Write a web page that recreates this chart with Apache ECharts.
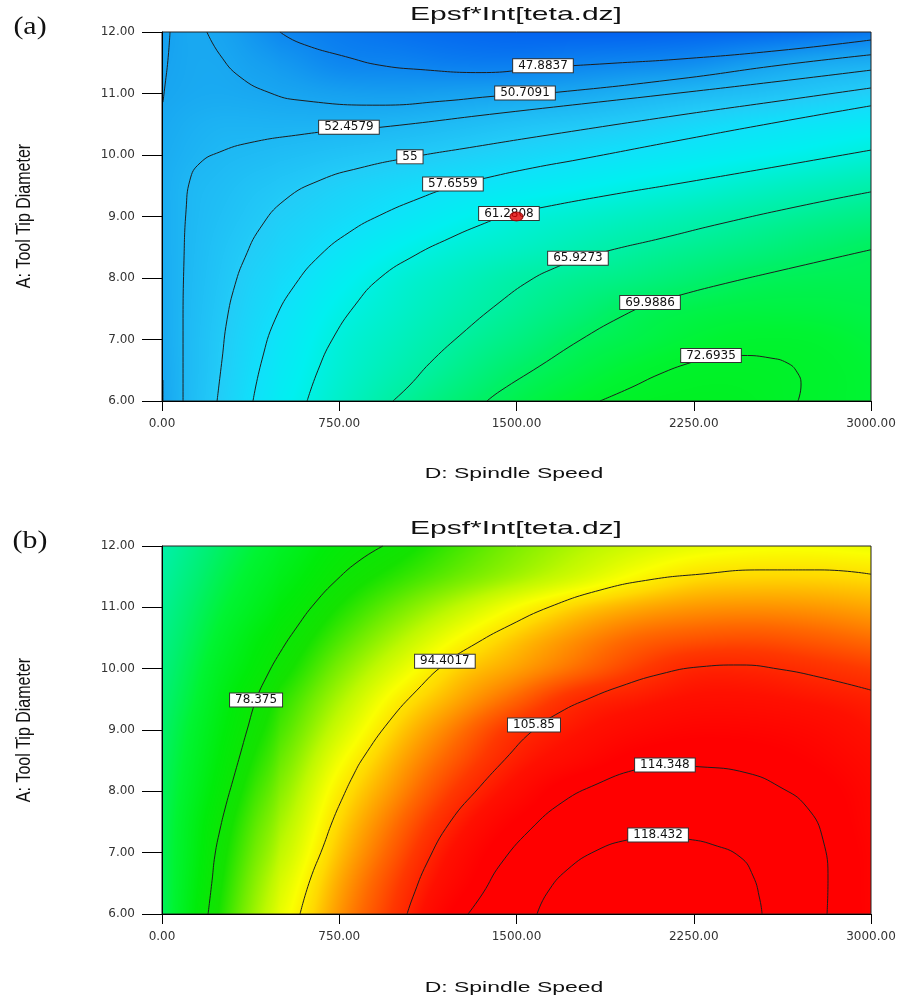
<!DOCTYPE html>
<html>
<head>
<meta charset="utf-8">
<script src="https://cdn.jsdelivr.net/npm/echarts@6/dist/echarts.min.js"></script>
<style>
  html, body { margin: 0; padding: 0; background: #ffffff; }
  #chart { width: 900px; height: 997px; }
</style>
</head>
<body>
<div id="chart"></div>
<script>
// ---- axes ----
const speedTicks = [0, 750, 1500, 2250, 3000];          // D: Spindle Speed
const diameterTicks = [6, 7, 8, 9, 10, 11, 12];         // A: Tool Tip Diameter

// ---- response surface grid (read at these speeds / diameters) ----
const speedCols = [0, 125, 250, 375, 500, 750, 1000, 1250, 1500, 1750, 2000, 2250, 2500, 2750, 3000];
const diameterRows = [6, 6.5, 7, 7.5, 8, 8.5, 9, 9.5, 10, 10.5, 11, 11.5, 12];

// panel (a): one row per diameter, one value per speed column
const surfaceA = [
  [50.6, 53.1, 55.3, 57.5, 59.5, 63.0, 66.2, 68.7, 70.7, 72.1, 73.2, 73.5, 73.3, 72.6, 72.0],
  [50.8, 53.0, 55.0, 57.0, 58.9, 62.2, 64.8, 67.2, 69.4, 70.9, 72.1, 72.9, 73.0, 72.6, 71.9],
  [51.0, 53.0, 54.8, 56.6, 58.3, 61.6, 63.8, 66.0, 67.9, 69.8, 70.9, 71.8, 72.3, 72.2, 71.5],
  [51.1, 52.9, 54.5, 56.1, 57.6, 60.6, 62.8, 64.8, 66.6, 68.3, 70.0, 70.8, 71.2, 71.2, 70.9],
  [51.2, 52.8, 54.2, 55.6, 56.8, 59.4, 61.9, 63.7, 65.5, 66.8, 67.8, 68.9, 69.9, 70.3, 70.4],
  [51.3, 52.7, 53.9, 55.0, 56.0, 58.0, 60.1, 61.9, 63.2, 64.6, 65.9, 66.9, 67.9, 68.9, 69.8],
  [51.35, 52.6, 53.5, 54.4, 55.3, 56.7, 58.2, 59.9, 61.5, 62.6, 63.7, 64.8, 65.9, 66.9, 67.8],
  [51.4, 52.5, 53.1, 53.8, 54.4, 55.6, 56.7, 57.8, 58.8, 59.8, 60.8, 61.8, 63.0, 64.1, 65.2],
  [51.25, 52.0, 52.55, 52.85, 53.2, 53.9, 54.6, 55.4, 56.3, 57.2, 58.1, 59.0, 59.9, 60.8, 61.9],
  [50.95, 51.6, 51.95, 51.95, 51.9, 52.0, 52.35, 53.0, 53.8, 54.5, 55.3, 56.4, 57.4, 58.2, 59.0],
  [50.6, 51.0, 51.1, 50.9, 50.6, 50.1, 49.9, 50.2, 50.5, 51.0, 51.9, 52.8, 53.6, 54.6, 55.6],
  [50.3, 50.85, 50.8, 50.1, 49.4, 47.9, 47.6, 47.1, 47.0, 47.6, 48.0, 48.5, 49.8, 51.0, 51.6],
  [50.0, 50.85, 50.4, 49.2, 47.9, 46.8, 46.0, 45.4, 45.0, 44.8, 44.8, 45.0, 45.3, 45.8, 46.6]
];

// panel (b)
const surfaceB = [
  [70.0, 75.5, 80.6, 85.8, 90.9, 98.6, 104.9, 112.9, 117.2, 119.5, 120.2, 120.0, 118.7, 115.3, 111.2],
  [70.1, 75.0, 79.9, 84.8, 89.7, 97.6, 103.8, 110.6, 116.1, 119.0, 119.7, 119.6, 118.5, 115.3, 111.1],
  [70.2, 74.6, 79.2, 83.7, 88.2, 96.3, 102.4, 108.9, 114.9, 117.7, 118.8, 118.8, 118.2, 115.2, 111.0],
  [70.1, 74.3, 78.4, 82.6, 86.8, 95.0, 100.9, 106.7, 112.3, 115.6, 117.4, 117.5, 116.5, 114.4, 110.5],
  [69.9, 73.6, 77.3, 81.3, 85.3, 93.5, 99.1, 104.4, 109.3, 114.2, 115.6, 115.7, 115.0, 113.4, 110.2],
  [69.6, 73.0, 76.4, 80.0, 83.8, 91.6, 97.5, 102.3, 106.8, 110.0, 113.0, 114.0, 113.3, 111.7, 109.3],
  [69.2, 72.4, 75.6, 78.8, 82.3, 89.3, 95.6, 100.3, 104.9, 107.6, 109.9, 111.2, 111.0, 110.0, 107.9],
  [68.7, 71.6, 74.8, 77.8, 80.9, 87.1, 93.3, 97.6, 101.4, 105.3, 107.0, 108.4, 108.4, 107.6, 106.5],
  [68.1, 70.9, 73.8, 76.3, 79.1, 84.8, 90.4, 95.3, 98.1, 100.9, 103.7, 106.0, 106.0, 105.0, 103.9],
  [67.5, 70.1, 72.7, 75.2, 77.6, 82.4, 87.3, 92.1, 95.9, 98.8, 101.1, 102.2, 102.5, 101.8, 100.7],
  [66.8, 69.3, 71.6, 73.7, 76.0, 80.2, 84.2, 88.2, 92.2, 95.4, 97.4, 98.5, 98.8, 98.5, 97.7],
  [66.1, 68.4, 70.6, 72.6, 74.6, 78.3, 81.2, 84.0, 86.8, 89.6, 92.5, 94.6, 95.1, 95.1, 94.7],
  [65.4, 67.5, 69.6, 71.5, 73.4, 76.8, 79.0, 82.0, 84.8, 87.2, 89.2, 90.7, 91.5, 91.6, 91.1]
];

// ---- contour lines, [speed, diameter] ----
const a4788 = [[499,12],[584,11.82],[795,11.58],[922,11.46],[1092,11.39],[1350,11.34],[1612,11.42],[1900,11.49],[2192,11.56],[2615,11.70],[3000,11.87]];
const a5071 = [[190,12],[245,11.63],[330,11.27],[457,11.01],[584,10.89],[922,10.81],[1200,10.88],[1388,10.95],[1536,10.99],[1671,11.02],[2192,11.24],[2615,11.46],[3000,11.63]];
const a5071EdgeTop = [[34,12],[25,11.54],[13,11.14],[4,10.86]];
const a5071EdgeLow = [[4,6],[4,6.34]];
const a5246 = [[89,6],[89,7.15],[93,8.29],[102,9.11],[118,9.59],[161,9.87],[245,10.05],[372,10.20],[584,10.33],[791,10.42],[922,10.45],[1430,10.68],[2192,11.01],[2615,11.20],[3000,11.38]];
const a5500 = [[233,6],[254,6.67],[275,7.32],[309,7.89],[351,8.33],[415,8.81],[520,9.27],[669,9.59],[838,9.79],[1049,9.96],[1300,10.12],[1642,10.33],[2192,10.65],[2615,10.88],[3000,11.09]];
const a5766 = [[385,6],[423,6.67],[478,7.32],[563,7.89],[669,8.37],[795,8.75],[922,9.02],[1092,9.30],[1231,9.49],[1375,9.63],[1569,9.79],[1769,9.93],[2192,10.24],[2615,10.54],[3000,10.80]];
const a6128 = [[614,6],[660,6.5],[719,6.99],[817,7.56],[922,8.00],[1071,8.37],[1219,8.65],[1346,8.86],[1468,9.03],[1599,9.14],[1896,9.35],[2192,9.54],[2615,9.82],[3000,10.08]];
const a6593 = [[977,6],[1049,6.26],[1134,6.62],[1261,7.07],[1430,7.61],[1557,7.96],[1660,8.16],[1760,8.30],[1896,8.45],[2107,8.64],[2361,8.88],[2700,9.17],[3000,9.40]];
const a6999 = [[1375,6],[1430,6.16],[1599,6.57],[1769,6.99],[1938,7.36],[2065,7.58],[2200,7.73],[2361,7.89],[2615,8.12],[3000,8.46]];
const a7269 = [[1853,6],[1980,6.21],[2107,6.44],[2234,6.62],[2331,6.71],[2458,6.74],[2573,6.70],[2645,6.62],[2687,6.47],[2704,6.26],[2691,6]];

const b7838 = [[195,6],[212,6.55],[224,6.96],[245,7.37],[271,7.78],[300,8.18],[330,8.59],[360,9.00],[398,9.49],[444,9.88],[499,10.26],[571,10.68],[647,11.07],[740,11.45],[838,11.77],[935,12]];
const b9440 = [[584,6],[626,6.55],[681,7.09],[722,7.52],[766,7.91],[808,8.25],[850,8.54],[965,9.16],[1079,9.65],[1197,10.08],[1333,10.42],[1473,10.71],[1642,11.01],[1853,11.28],[2065,11.45],[2276,11.54],[2530,11.61],[2784,11.61],[3000,11.54]];
const b10585 = [[1037,6],[1062,6.28],[1121,6.83],[1219,7.50],[1346,8.08],[1451,8.52],[1566,8.98],[1684,9.29],[1811,9.52],[1938,9.71],[2107,9.91],[2276,10.03],[2446,10.06],[2615,9.99],[2784,9.86],[3000,9.65]];
const b11435 = [[1295,6],[1358,6.34],[1430,6.80],[1557,7.37],[1697,7.83],[1841,8.12],[2001,8.35],[2128,8.42],[2276,8.40],[2475,8.30],[2615,8.07],[2729,7.74],[2797,7.21],[2818,6.55],[2814,6]];
const b11843 = [[1587,6],[1629,6.34],[1714,6.72],[1841,7.04],[1972,7.21],[2099,7.27],[2226,7.22],[2331,7.13],[2446,6.93],[2501,6.62],[2530,6.23],[2539,6]];

// contour levels and where each level's tag sits on its line
const levelsA = [47.8837, 50.7091, 52.4579, 55, 57.6559, 61.2808, 65.9273, 69.9886, 72.6935];
const linesA = [a4788, a5071, a5246, a5500, a5766, a6128, a6593, a6999, a7269];
const tagAtA = [[1612,11.45],[1536,11.01],[791,10.45],[1049,9.97],[1231,9.53],[1468,9.05],[1760,8.32],[2065,7.60],[2323,6.74]];
const extraLinesA = [a5071EdgeTop, a5071EdgeLow];

const levelsB = [78.375, 94.4017, 105.85, 114.348, 118.432];
const linesB = [b7838, b9440, b10585, b11435, b11843];
const tagAtB = [[398,9.49],[1197,10.12],[1574,9.08],[2128,8.43],[2099,7.29]];

// design point (centre point) shown on panel (a)
const designPointsA = [[1500, 9]];

// ---- texts ----
const titleText = 'Epsf*Int[teta.dz]';
const xAxisTitle = 'D: Spindle Speed';
const yAxisTitle = 'A: Tool Tip Diameter';
const panelTags = ['(a)', '(b)'];

// ---- colour scale shared by both panels (value -> rgb) ----
const colorStops = [
  [44, [0, 88, 240]], [47, [10, 125, 240]], [50, [22, 160, 240]], [52.5, [30, 184, 244]],
  [55, [34, 204, 248]], [57.5, [16, 224, 250]], [60, [0, 240, 240]], [63, [0, 240, 200]],
  [66, [0, 240, 160]], [69, [0, 240, 110]], [72, [0, 244, 50]], [76, [0, 236, 10]],
  [80, [20, 226, 0]], [84, [110, 236, 0]], [88, [190, 248, 0]], [92, [250, 255, 0]],
  [95, [255, 216, 0]], [98, [255, 160, 0]], [101, [255, 104, 0]], [104, [255, 56, 0]],
  [108, [255, 16, 0]], [112, [255, 0, 0]], [130, [255, 0, 0]]
];
function colorOf(v) {
  if (v <= colorStops[0][0]) return colorStops[0][1];
  for (let k = 1; k < colorStops.length; k++) {
    const [v1, c1] = colorStops[k];
    if (v <= v1) {
      const [v0, c0] = colorStops[k - 1];
      const t = (v - v0) / (v1 - v0);
      return [c0[0] + (c1[0] - c0[0]) * t, c0[1] + (c1[1] - c0[1]) * t, c0[2] + (c1[2] - c0[2]) * t];
    }
  }
  return colorStops[colorStops.length - 1][1];
}

// Catmull-Rom weights for the smooth fill between grid nodes
function catmull(p0, p1, p2, p3, t) {
  return 0.5 * (2 * p1 + (-p0 + p2) * t + (2 * p0 - 5 * p1 + 4 * p2 - p3) * t * t + (-p0 + 3 * p1 - 3 * p2 + p3) * t * t * t);
}
function nodeValue(surface, j, i) {
  const nC = speedCols.length, nR = diameterRows.length;
  if (i < 0) return 2 * nodeValue(surface, j, 0) - nodeValue(surface, j, 1);
  if (i >= nC) return 2 * nodeValue(surface, j, nC - 1) - nodeValue(surface, j, nC - 2);
  if (j < 0) return 2 * nodeValue(surface, 0, i) - nodeValue(surface, 1, i);
  if (j >= nR) return 2 * nodeValue(surface, nR - 1, i) - nodeValue(surface, nR - 2, i);
  return surface[j][i];
}

// filled colour surface: each grid node paints the cell above and to its right
function surfaceSeries(g, surface) {
  const nodes = [];
  diameterRows.forEach((d, j) => speedCols.forEach((s, i) => nodes.push([s, d, surface[j][i], i, j])));
  return {
    type: 'custom', xAxisIndex: g, yAxisIndex: g, silent: true, clip: true, z: 1,
    data: nodes, encode: { x: 0, y: 1 },
    renderItem(params, api) {
      const i = api.value(3), j = api.value(4);
      if (i >= speedCols.length - 1 || j >= diameterRows.length - 1) return null;
      const p0 = api.coord([speedCols[i], diameterRows[j]]);
      const p1 = api.coord([speedCols[i + 1], diameterRows[j + 1]]);
      const left = Math.round(p0[0]), right = Math.round(p1[0]);
      const top = Math.round(p1[1]), bottom = Math.round(p0[1]);
      const w = right - left + 1, h = bottom - top + 1;
      const nb = [];
      for (let r = -1; r <= 2; r++) {
        nb.push([-1, 0, 1, 2].map(c => nodeValue(surface, j + r, i + c)));
      }
      const cv = document.createElement('canvas');
      cv.width = w; cv.height = h;
      const ctx = cv.getContext('2d');
      const img = ctx.createImageData(w, h);
      const spanX = Math.max(1, right - left), spanY = Math.max(1, bottom - top);
      for (let py = 0; py < h; py++) {
        const ty = Math.max(0, Math.min(1, (bottom - (top + py)) / spanY));
        for (let px = 0; px < w; px++) {
          const tx = Math.max(0, Math.min(1, px / spanX));
          const rows = nb.map(r => catmull(r[0], r[1], r[2], r[3], tx));
          const v = catmull(rows[0], rows[1], rows[2], rows[3], ty);
          const c = colorOf(v);
          const o = (py * w + px) * 4;
          img.data[o] = c[0]; img.data[o + 1] = c[1]; img.data[o + 2] = c[2]; img.data[o + 3] = 255;
        }
      }
      ctx.putImageData(img, 0, 0);
      return { type: 'image', style: { image: cv, x: left, y: top, width: w, height: h } };
    }
  };
}

function contourLine(g, pts) {
  return {
    type: 'line', xAxisIndex: g, yAxisIndex: g, data: pts, smooth: 0.5, symbol: 'none',
    silent: true, clip: true, z: 3, lineStyle: { color: '#1e1e1e', width: 1 }
  };
}

function contourTags(g, levels, at) {
  return {
    type: 'scatter', xAxisIndex: g, yAxisIndex: g, silent: true, z: 4,
    symbol: 'rect', symbolSize: 1, itemStyle: { color: '#ffffff', opacity: 1 },
    data: levels.map((lv, k) => [at[k][0], at[k][1], lv]),
    label: {
      show: true, position: 'inside', formatter: p => String(p.value[2]), opacity: 1,
      fontFamily: 'DejaVu Sans', fontSize: 12, lineHeight: 12, color: '#111',
      backgroundColor: '#ffffff', borderColor: '#333', borderWidth: 1, padding: [1, 5, 0, 5]
    }
  };
}

const tickFont = { fontFamily: 'DejaVu Sans', fontSize: 12, color: '#333' };
function xAxisFor(g) {
  return {
    gridIndex: g, type: 'value', min: speedTicks[0], max: speedTicks[speedTicks.length - 1],
    interval: speedTicks[1] - speedTicks[0], z: 10,
    axisLine: { show: true, lineStyle: { color: '#000', width: 1 } },
    axisTick: { show: true, length: 10, lineStyle: { color: '#000', width: 1 } },
    axisLabel: Object.assign({ margin: 17, formatter: v => v.toFixed(2) }, tickFont),
    splitLine: { show: false }
  };
}
function yAxisFor(g) {
  return {
    gridIndex: g, type: 'value', min: diameterTicks[0], max: diameterTicks[diameterTicks.length - 1],
    interval: diameterTicks[1] - diameterTicks[0], z: 10,
    axisLine: { show: true, lineStyle: { color: '#000', width: 1 } },
    axisTick: { show: true, length: 20, lineStyle: { color: '#000', width: 1 } },
    axisLabel: Object.assign({ margin: 27, formatter: v => v.toFixed(2) }, tickFont),
    splitLine: { show: false }
  };
}

function textEl(x, y, text, font, extra) {
  return Object.assign({
    type: 'text', x: x, y: y, silent: true, z: 20,
    style: { text: text, font: font, fill: '#111', textAlign: 'center', textVerticalAlign: 'middle', align: 'center', verticalAlign: 'middle' }
  }, extra || {});
}

const panelTop = [32, 546];
const panelHeight = [369, 368];
const graphics = [];
[0, 1].forEach(g => {
  const off = g === 0 ? 0 : 514;
  graphics.push(textEl(516, 15 + off, titleText, '19px "Liberation Sans"', { scaleX: 1.58 }));
  graphics.push(textEl(514, 474 + off, xAxisTitle, '15.5px "Liberation Sans"', { scaleX: 1.48 }));
  graphics.push(textEl(24, 216 + off, yAxisTitle, '16px "Liberation Sans"', { rotation: Math.PI / 2, scaleY: 1.3 }));
  graphics.push(textEl(30, 27 + off, panelTags[g], '26px "Liberation Serif"', { scaleX: 1.15 }));
});

const series = [
  surfaceSeries(0, surfaceA),
  surfaceSeries(1, surfaceB),
  ...linesA.map(l => contourLine(0, l)),
  ...extraLinesA.map(l => contourLine(0, l)),
  ...linesB.map(l => contourLine(1, l)),
  contourTags(0, levelsA, tagAtA),
  contourTags(1, levelsB, tagAtB),
  {
    type: 'scatter', xAxisIndex: 0, yAxisIndex: 0, silent: true, z: 6,
    data: designPointsA, symbol: 'circle', symbolSize: [13, 9],
    itemStyle: { color: '#e00000', borderColor: '#8a0000', borderWidth: 1 }
  }
];

const chart = echarts.init(document.getElementById('chart'), null, { renderer: 'canvas' });
chart.setOption({
  animation: false,
  backgroundColor: '#ffffff',
  grid: [0, 1].map(g => ({
    left: 162, top: panelTop[g], width: 709, height: panelHeight[g],
    show: true, z: 8, backgroundColor: 'rgba(0,0,0,0)', borderColor: '#222', borderWidth: 1
  })),
  xAxis: [xAxisFor(0), xAxisFor(1)],
  yAxis: [yAxisFor(0), yAxisFor(1)],
  series: series,
  graphic: graphics
});
</script>
</body>
</html>
